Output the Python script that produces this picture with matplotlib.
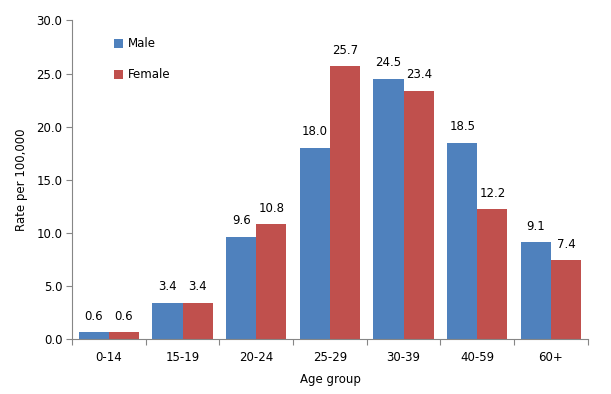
import numpy as np
import matplotlib
matplotlib.use("Agg")
import matplotlib.pyplot as plt

# Data
age_groups = ['0-14', '15-19', '20-24', '25-29', '30-39', '40-59', '60+']
male = [0.6, 3.4, 9.6, 18.0, 24.5, 18.5, 9.1]
female = [0.6, 3.4, 10.8, 25.7, 23.4, 12.2, 7.4]

blue = '#4F81BD'
red = '#C0504D'
grey = '#868686'

fig = plt.figure(figsize=(6.11, 3.94), dpi=100)
ax = fig.add_axes([0.118, 0.140, 0.844, 0.808])

x = np.arange(len(age_groups))
w = 0.41
b1 = ax.bar(x - w / 2, male, w, color=blue, label='Male')
b2 = ax.bar(x + w / 2, female, w, color=red, label='Female')

# value labels
for bars, vals in ((b1, male), (b2, female)):
    for bar, v in zip(bars, vals):
        ax.text(bar.get_x() + bar.get_width() / 2, v + 0.9, f'{v:.1f}',
                ha='center', va='bottom', fontsize=8.5, color='black')

ax.set_xlim(-0.5, len(age_groups) - 0.5)
ax.set_ylim(0, 30)
ax.set_yticks(np.arange(0, 30.1, 5))
ax.set_yticklabels([f'{v:.1f}' for v in np.arange(0, 30.1, 5)], fontsize=8.5)

# ticks between categories, labels at centres
ax.set_xticks(np.arange(-0.5, len(age_groups)), minor=False)
ax.set_xticklabels([])
ax.set_xticks(x, minor=True)
ax.set_xticklabels(age_groups, minor=True, fontsize=8.5)
ax.tick_params(axis='x', which='minor', length=0, pad=9)
ax.tick_params(axis='x', which='major', length=4, color=grey)
ax.tick_params(axis='y', length=4, color=grey, pad=3)

for s in ('top', 'right'):
    ax.spines[s].set_visible(False)
for s in ('left', 'bottom'):
    ax.spines[s].set_color(grey)

ax.set_xlabel('Age group', fontsize=8.5, labelpad=6)
ax.set_ylabel('Rate per 100,000', fontsize=8.5, labelpad=6)

ax.legend(loc='upper left', bbox_to_anchor=(0.06, 0.98), frameon=False,
          fontsize=8.5, handlelength=0.8, handleheight=0.8, handletextpad=0.4,
          labelspacing=1.5)

fig.savefig('out.png', dpi=100)
